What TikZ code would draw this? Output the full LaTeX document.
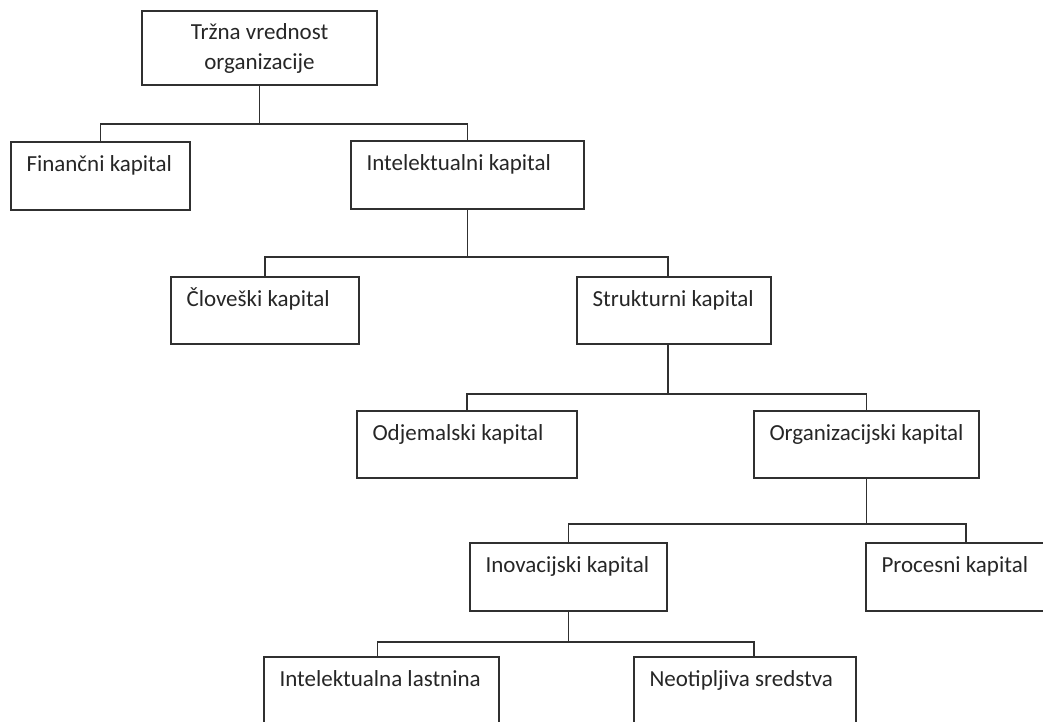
\documentclass[tikz,border=0pt]{standalone}
\usepackage{fontspec}
\setmainfont{Carlito}
\usepackage{tikz}
\definecolor{linec}{HTML}{303030}
\definecolor{ink}{HTML}{262626}
\begin{document}
\begin{tikzpicture}[x=1pt,y=-1pt,
  box/.style={draw=linec, line width=1.9pt, rectangle, inner sep=0pt,
    outer sep=0pt, anchor=north west, text=ink,
    font=\fontsize{23}{30}\selectfont},
  lbltext/.style={anchor=base west, inner sep=0pt, outer sep=0pt,
    label distance=0pt, xshift=15.5pt, yshift=-29.5pt, text=ink,
    font=\fontsize{23}{30}\selectfont},
  boxtext/.style={label={[lbltext]north west:#1}},
  conn/.style={draw=linec, line width=1.9pt}]

\useasboundingbox (0,0) rectangle (1043,722);

% boxes
\node[box, minimum width=235, minimum height=74, align=center] (top) at (142,11)
  {Tržna vrednost\\organizacije};
\node[box, minimum width=179, minimum height=68, boxtext={Finančni kapital}] (fin) at (11,142) {};
\node[box, minimum width=233, minimum height=68, boxtext={Intelektualni kapital}] (intel) at (351,141) {};
\node[box, minimum width=188, minimum height=67, boxtext={Človeški kapital}] (clov) at (171,277) {};
\node[box, minimum width=194, minimum height=67, boxtext={Strukturni kapital}] (strukt) at (577,277) {};
\node[box, minimum width=220, minimum height=67, boxtext={Odjemalski kapital}] (odj) at (357,411) {};
\node[box, minimum width=225, minimum height=67, boxtext={Organizacijski kapital}] (org) at (754,411) {};
\node[box, minimum width=197, minimum height=68, boxtext={Inovacijski kapital}] (inov) at (470,543) {};
\node[box, minimum width=200, minimum height=68, boxtext={Procesni kapital}] (proc) at (866,543) {};
\node[box, minimum width=235, minimum height=68, boxtext={Intelektualna lastnina}] (intl) at (264,657) {};
\node[box, minimum width=222, minimum height=68, boxtext={Neotipljiva sredstva}] (neo) at (634,657) {};

% connectors
\draw[conn] (top.south) -- ++(0,39) -| (fin.north);
\draw[conn] (top.south) ++(0,39) -| (intel.north);
\draw[conn] (intel.south) -- ++(0,48) -| (clov.north);
\draw[conn] (intel.south) ++(0,48) -| ([xshift=-6pt]strukt.north);
\draw[conn] ([xshift=-6pt]strukt.south) -- ++(0,50) -| (odj.north);
\draw[conn] ([xshift=-6pt]strukt.south) ++(0,50) -| (org.north);
\draw[conn] (org.south) -- ++(0,46) -| (inov.north);
\draw[conn] (org.south) ++(0,46) -| (proc.north);
\draw[conn] (inov.south) -- ++(0,31) -| ([xshift=-4pt]intl.north);
\draw[conn] (inov.south) ++(0,31) -| ([xshift=9pt]neo.north);
\end{tikzpicture}
\end{document}
